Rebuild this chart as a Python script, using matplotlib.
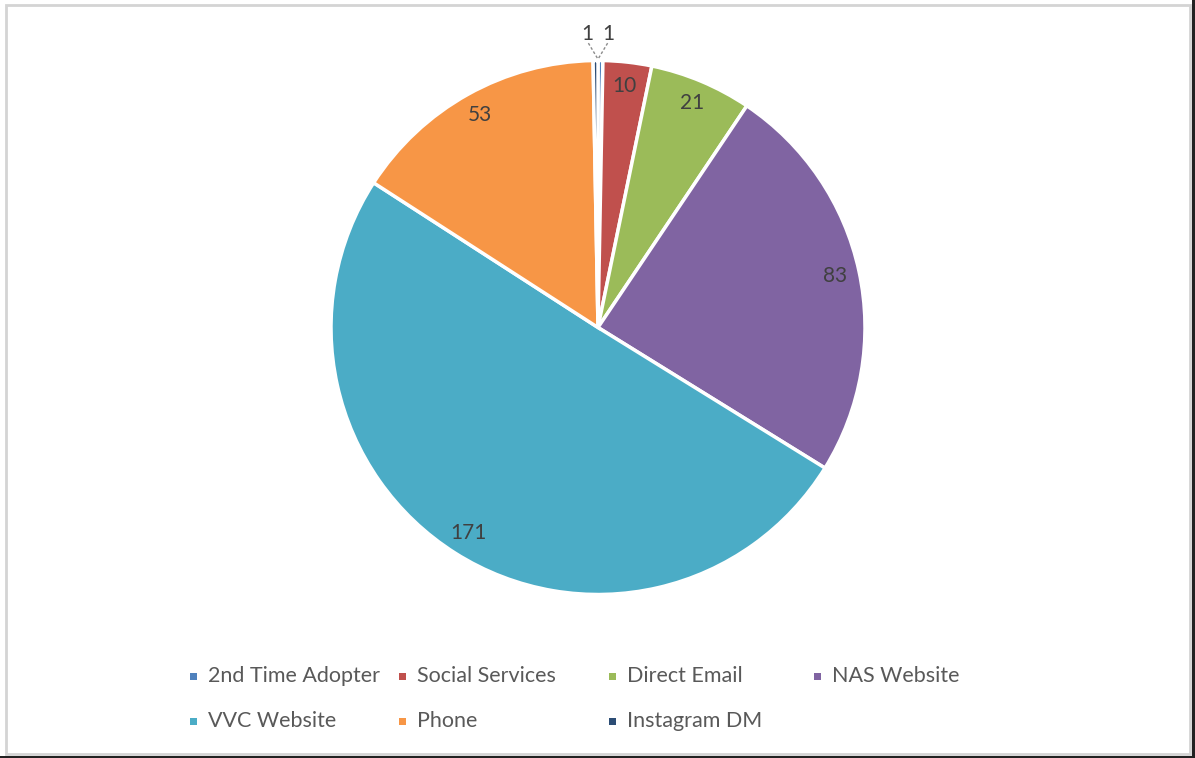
import numpy as np
import matplotlib.pyplot as plt
from matplotlib.patches import Rectangle


# ---------------------------------------------------
# DATOS
# ---------------------------------------------------
CATEGORIES = ['2nd Time Adopter', 'Social Services', 'Direct Email', 'NAS Website',
              'VVC Website', 'Phone', 'Instagram DM']
VALUES = [1, 10, 21, 83, 171, 53, 1]
COLORS = ['#4F81BD', '#C0504D', '#9BBB59', '#8064A2', '#4BACC6', '#F79646', '#2C4D75']
# ---------------------------------------------------

W, H = 1195, 758
FONT = 'Lato'


def px(x, y):
    # pixel (desde arriba-izquierda) -> coordenadas de figura
    return x / W, 1 - y / H


def main():
    plt.rcParams['font.family'] = [FONT, 'DejaVu Sans']
    fig = plt.figure(figsize=(W / 100, H / 100), dpi=100)

    cx, cy, r = 598, 327.5, 267
    ax = fig.add_axes([(cx - r) / W, 1 - (cy + r) / H, 2 * r / W, 2 * r / H])
    wedges, _ = ax.pie(VALUES, colors=COLORS, startangle=90, counterclock=False,
                       wedgeprops=dict(edgecolor='white', linewidth=2.5))
    ax.set_xlim(-1, 1)
    ax.set_ylim(-1, 1)
    ax.axis('off')

    for w, v in zip(wedges, VALUES):
        ang = np.deg2rad((w.theta1 + w.theta2) / 2)
        x, y = np.cos(ang), np.sin(ang)
        if v > 1:
            ax.text(0.91 * x, 0.91 * y, str(v), ha='center', va='center',
                    fontsize=15, color='#404040', clip_on=False)
        else:
            side = 1 if x > 0 else -1
            ax.text(side * 0.04, 1.10, str(v), ha='center', va='center',
                    fontsize=15, color='#404040', clip_on=False)
            ax.plot([side * 0.036, 0.0], [1.065, 1.005], color='#8c8c8c', lw=1,
                    linestyle=(0, (2, 1.5)), clip_on=False)

    # leyenda en filas (estilo Excel)
    col_x = [193, 402, 612, 817]
    row_y = [676, 721]
    for i, (cat, col) in enumerate(zip(CATEGORIES, COLORS)):
        row, c = divmod(i, 4)
        mx, my = col_x[c], row_y[row]
        x0, y0 = px(mx - 3.5, my + 3.5)
        fig.patches.append(Rectangle((x0, y0), 7 / W, 7 / H, transform=fig.transFigure,
                                     facecolor=col, edgecolor='none'))
        tx, ty = px(mx + 15, my)
        fig.text(tx, ty, cat, ha='left', va='center', fontsize=15.5, color='#595959')

    # marco
    x0, y0 = px(6, 754)
    fig.patches.append(Rectangle((x0, y0), 1184 / W, 749 / H, transform=fig.transFigure,
                                 facecolor='none', edgecolor='#d4d4d4', lw=2))
    fig.patches.append(Rectangle((1192 / W, 0), 3 / W, 1, transform=fig.transFigure,
                                 facecolor='#222222', edgecolor='none'))
    fig.patches.append(Rectangle((0, 0), 1, 2 / H, transform=fig.transFigure,
                                 facecolor='#222222', edgecolor='none'))

    fig.savefig('out.png', dpi=100)


if __name__ == '__main__':
    main()
